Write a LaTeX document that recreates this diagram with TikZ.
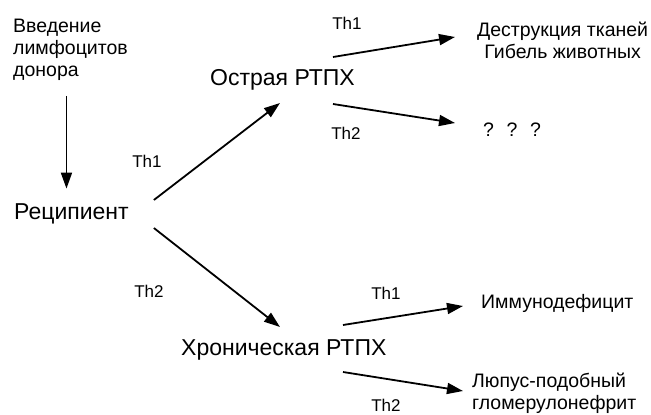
\documentclass[tikz,border=0pt]{standalone}
\usepackage{fontspec}
\setmainfont{Liberation Sans}
\usetikzlibrary{arrows.meta}

\begin{document}
\begin{tikzpicture}[x=1pt, y=-1pt,
  arr/.style={-{Triangle[length=16pt, width=11pt]}, line width=1.8pt},
  txt/.style={inner sep=0pt, font=\fontsize{19.5}{22}\selectfont},
  big/.style={inner sep=0pt, font=\fontsize{23}{26}\selectfont},
  th/.style={inner sep=0pt, font=\fontsize{17}{20}\selectfont}]
\useasboundingbox (0,0) rectangle (651,415);
\node[txt, anchor=north west, align=left] (don) at (13,19) {Введение\\лимфоцитов\\донора};
\node[big, anchor=west] (rec) at (14,214) {Реципиент};
\node[big, anchor=west] (acute) at (210,80) {Острая РТПХ};
\node[big, anchor=west] (chron) at (181,350) {Хроническая РТПХ};
\node[txt, anchor=west, align=center] (destr) at (477,40) {Деструкция тканей\\Гибель животных};
\node[txt, anchor=west] (qqq) at (483,130) {? \ ? \ ?};
\node[txt, anchor=west] (immun) at (481,303) {Иммунодефицит};
\node[txt, anchor=west, align=left] (lupus) at (472,393) {Люпус-подобный\\гломерулонефрит};
\node[th] (th1a) at (147,161) {Th1};
\node[th] (th2a) at (149,291) {Th2};
\node[th] (th1b) at (347,23) {Th1};
\node[th] (th2b) at (346,133) {Th2};
\node[th] (th1c) at (386,293) {Th1};
\node[th] (th2c) at (386,405) {Th2};
\draw[arr] ([shift={(-4pt,-15pt)}]don.south) -- ([shift={(-4pt,15pt)}]don.south |- rec.north);
\draw[arr] ([shift={(25pt,14pt)}]rec.east) -- ([shift={(70pt,-23pt)}]acute.west);
\draw[arr] ([shift={(25pt,-14pt)}]rec.east) -- ([shift={(99pt,23pt)}]chron.west);
\draw[arr] ([shift={(-22pt,23pt)}]acute.east) -- ([shift={(-22pt,3pt)}]destr.west);
\draw[arr] ([shift={(-22pt,-24pt)}]acute.east) -- ([shift={(-28pt,7pt)}]qqq.west);
\draw[arr] ([shift={(162pt,25pt)}]chron.west) -- ([shift={(-18pt,-3pt)}]immun.west);
\draw[arr] ([shift={(162pt,-22pt)}]chron.west) -- ([shift={(-9pt,2pt)}]lupus.west);
\end{tikzpicture}
\end{document}
